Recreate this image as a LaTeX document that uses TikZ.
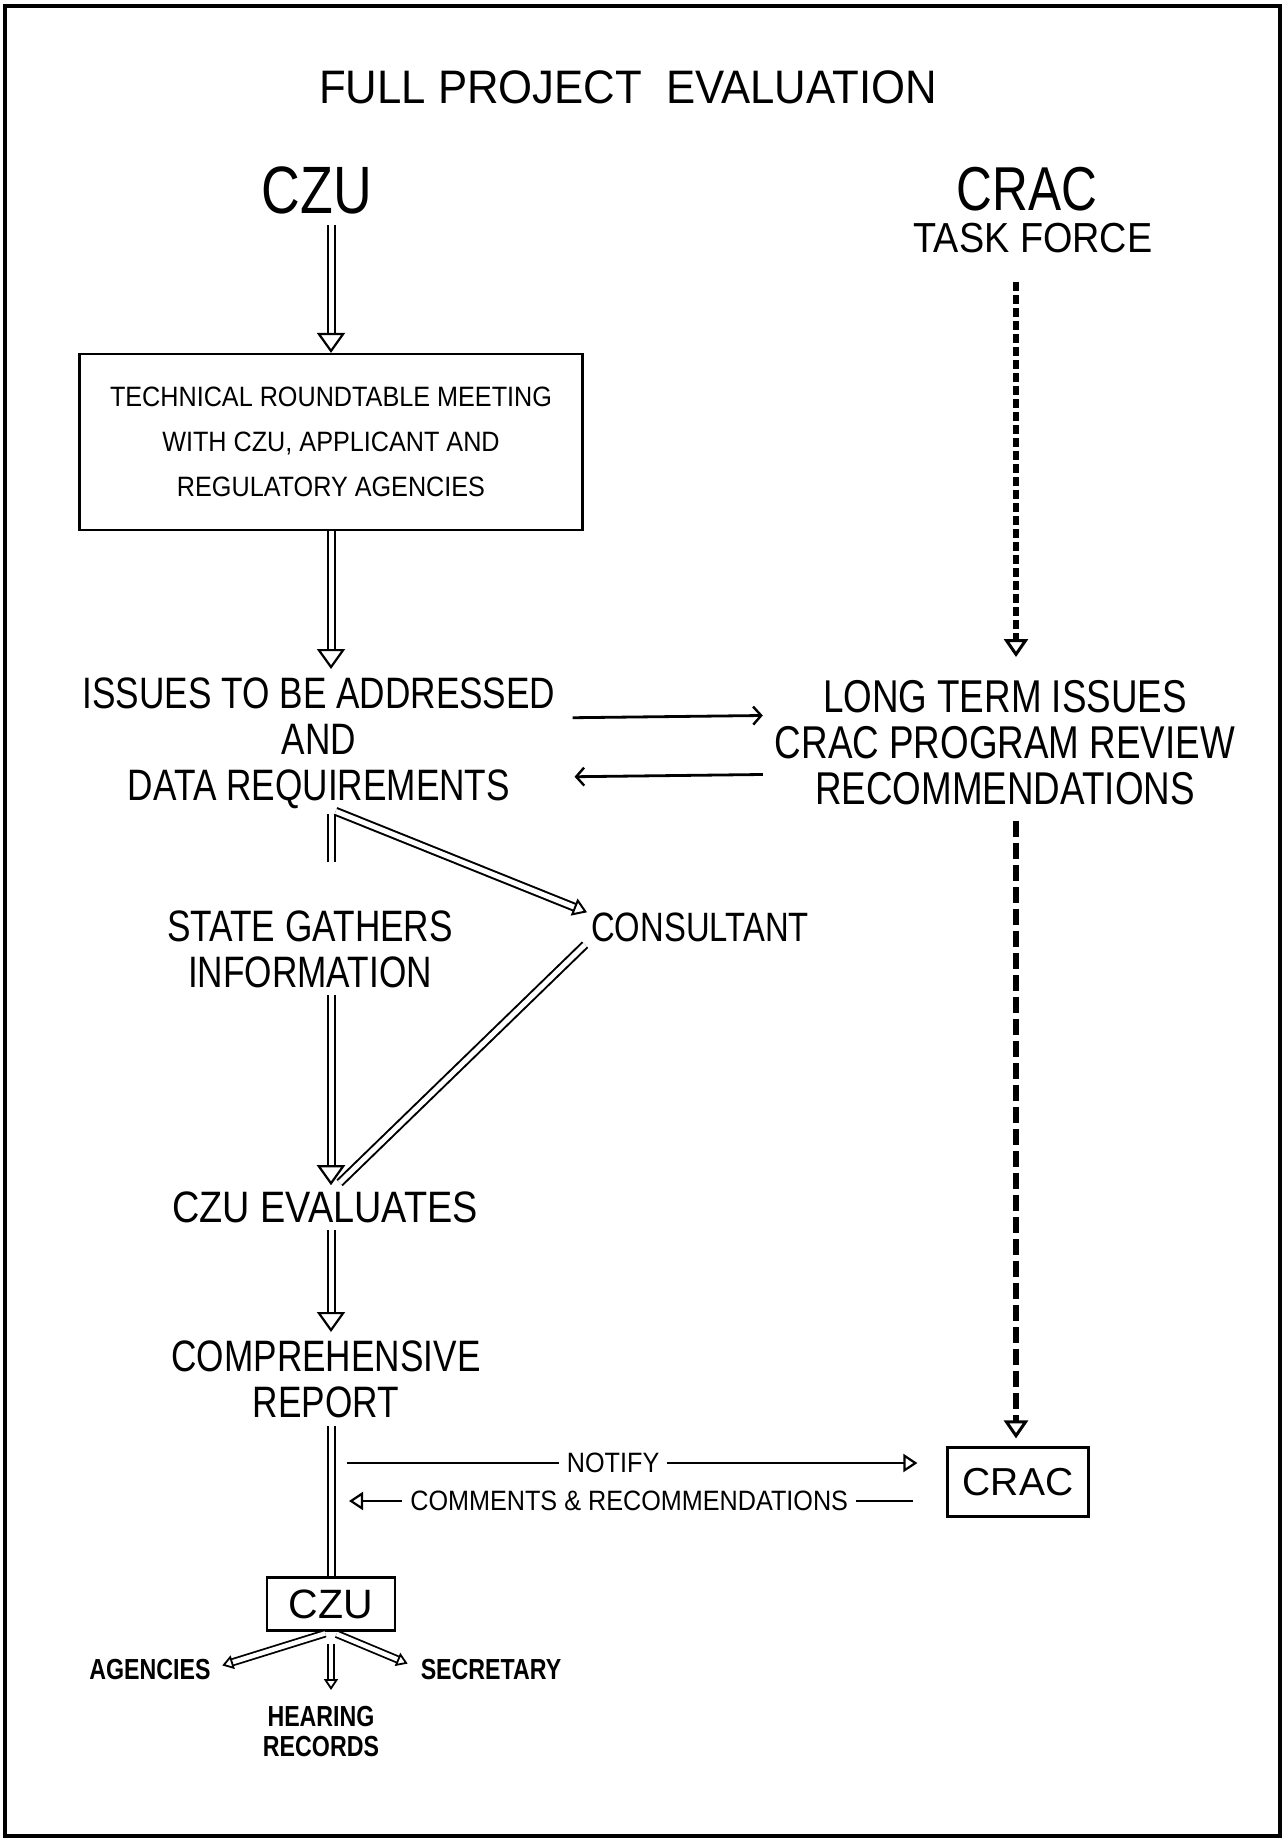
\documentclass[tikz,border=0pt]{standalone}
\usepackage{fontspec}
\setmainfont{Liberation Sans}
\newfontfamily\fntA[FakeStretch=0.80]{Liberation Sans}
\newfontfamily\fntB[FakeStretch=0.90]{Liberation Sans}
\newfontfamily\fntC[FakeStretch=0.86]{Liberation Sans}
\newfontfamily\fntT[FakeStretch=0.93]{Liberation Sans}
\newcommand\fsz[2]{\fontsize{#1}{#2}\selectfont}
\usetikzlibrary{arrows.meta,calc}
\begin{document}
\begin{tikzpicture}[x=1pt,y=-1pt,
  txt/.style={inner sep=0pt, align=center},
  boxed/.style={draw, line width=2.2pt, inner sep=0pt, align=center},
  dbl/.style={draw, line width=2pt, double distance=5pt, double=white},
  hollow/.style={dbl, -{Triangle[open, length=20pt, width=28pt, line width=2.2pt 0 0]}},
  hollowsm/.style={dbl, -{Triangle[open, length=14pt, width=18pt, line width=2pt 0 0]}},
  dashA/.style={line width=6pt, dash pattern=on 9pt off 4pt, -{Triangle[open, length=18pt, width=24pt, line width=3pt 0 0]}},
  dashB/.style={line width=6pt, dash pattern=on 16pt off 6pt, -{Triangle[open, length=18pt, width=24pt, line width=3pt 0 0]}},
  thinarr/.style={line width=2.8pt, -{Straight Barb[length=8pt, width=18pt, line width=2.4pt 0 0]}},
  notarr/.style={line width=2.6pt, -{Triangle[open, length=14pt, width=18pt, line width=2.2pt 0 0]}},
  comarr/.style={line width=2.6pt, {Triangle[open, length=14pt, width=18pt, line width=2.2pt 0 0]}-},
  fan/.style={draw, line width=1.8pt, double distance=4.5pt, double=white, -{Triangle[open, length=11pt, width=14pt, line width=1.8pt 0 0]}},
  lbl/.style={fill=white, inner xsep=8pt, inner ysep=2pt, font=\fntB\fsz{28}{30}}
]
\useasboundingbox (0,0) rectangle (1285,1840);
\draw[line width=3.5pt] (5,6) rectangle (1280,1836);

\coordinate (sp) at (331,0);
\coordinate (rsp) at (1016,0);

\node[txt, font=\fntT\fsz{47}{50}] (title) at (628,87) {FULL PROJECT\ \ EVALUATION};
\node[txt, font=\fntA\fsz{67}{70}] (czu) at (317,190) {CZU};
\node[txt, font=\fntA\fsz{62}{66}] (crac) at (1027,189) {CRAC};
\node[txt, font=\fntB\fsz{42}{44}] (task) at (1033,238) {TASK FORCE};
\node[boxed, minimum width=503pt, minimum height=176pt, font=\fntB\fsz{28}{45}] (meet) at (331,442)
  {TECHNICAL ROUNDTABLE MEETING\\WITH CZU, APPLICANT AND\\REGULATORY AGENCIES};
\node[txt, anchor=north, font=\fntA\fsz{44}{46}] (issues) at (319,678)
  {ISSUES TO BE ADDRESSED\\AND\\DATA REQUIREMENTS};
\node[txt, anchor=north, font=\fntA\fsz{46}{46}] (long) at (1005,680)
  {LONG TERM ISSUES\\CRAC PROGRAM REVIEW\\RECOMMENDATIONS};
\node[txt, anchor=north, font=\fntA\fsz{44}{46}] (state) at (310,911) {STATE GATHERS\\INFORMATION};
\node[txt, font=\fntA\fsz{41}{44}] (consult) at (700,927) {CONSULTANT};
\node[txt, font=\fntC\fsz{44}{46}] (evals) at (325,1207) {CZU EVALUATES};
\node[txt, anchor=north, font=\fntA\fsz{44}{46}] (comp) at (326,1341) {COMPREHENSIVE\\REPORT};
\node[boxed, minimum width=141pt, minimum height=69pt, font=\fsz{39}{40}] (crac2) at (1018,1482) {CRAC};
\node[boxed, minimum width=128pt, minimum height=53pt, font=\fsz{41}{42}] (czub) at (331,1604) {CZU};
\node[txt, font=\fntA\bfseries\fsz{29}{30}] (agen) at (150,1669) {AGENCIES};
\node[txt, font=\fntA\bfseries\fsz{29}{30}] (secr) at (491,1669) {SECRETARY};
\node[txt, anchor=north, font=\fntA\bfseries\fsz{29}{30}] (hear) at (321,1706) {HEARING\\RECORDS};

% left column
\draw[hollow, shorten <=11pt] (czu.south -| meet.north) -- (meet.north);
\draw[hollow, shorten >=9pt] (meet.south) -- (issues.north -| meet.south);
\draw[thinarr] ($(issues.east)+(17,-26)$) -- ($(long.west)+(-12,-27)$);
\draw[thinarr] ($(long.west)+(-12,32)$) -- ($(issues.east)+(19,33)$);
\draw[dbl, shorten <=5pt, shorten >=49pt] (issues.south -| sp) -- (state.north -| sp);
\draw[hollowsm, shorten <=5pt] (issues.south -| sp) -- ($(consult.north west)+(-4,0)$);
\draw[dbl, shorten >=12pt] ($(consult.south west)+(-6,3)$) -- (evals.north -| sp);
\draw[hollow, shorten <=6pt, shorten >=6pt] (state.south -| sp) -- (evals.north -| sp);
\draw[hollow, shorten <=7pt, shorten >=9pt] (evals.south -| sp) -- (comp.north -| sp);
\draw[dbl, shorten <=7pt] (comp.south -| sp) -- (czub.north);

% right column
\draw[dashA, shorten <=29pt, shorten >=23pt] (task.south -| rsp) -- (long.north -| rsp);
\draw[dashB, shorten <=16pt, shorten >=8pt] (long.south -| rsp) -- (crac2.north -| rsp);

% notify / comments
\coordinate (n0) at (347,1463);
\coordinate (c0) at (349,1501);
\draw[notarr, shorten >=29pt] (n0) -- node[lbl, pos=0.444] (notify) {NOTIFY} (n0 -| crac2.west);
\draw[comarr, shorten >=33pt] (c0) -- node[lbl, pos=0.469] (comments) {COMMENTS \& RECOMMENDATIONS} (c0 -| crac2.west);

% fan below CZU
\draw[fan, shorten <=6pt, shorten >=12pt] (czub.south) -- (agen.east);
\draw[fan, shorten <=6pt, shorten >=14pt] (czub.south) -- (secr.west);
\draw[fan, shorten <=12pt, shorten >=16pt] (czub.south) -- (hear.north -| czub.south);
\end{tikzpicture}
\end{document}
